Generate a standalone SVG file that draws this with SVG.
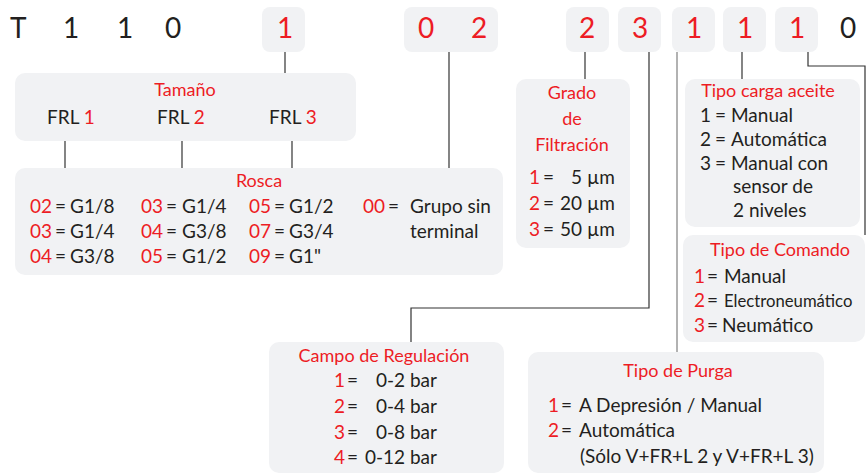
<svg xmlns="http://www.w3.org/2000/svg" width="867" height="475" viewBox="0 0 867 475">
<style>
text{font-family:Lato,"Open Sans","Liberation Sans",sans-serif;fill:#231f20}
.r{fill:#ed1c24}
.box{fill:#f1f2f4}
.code{font-size:28px}
.t{font-size:18px;fill:#ed1c24}
.b{font-size:19px}
.c{stroke:#333;stroke-width:1.2;fill:none}
.g{stroke:#999;stroke-width:1.5;fill:none}
</style>
<rect width="867" height="475" fill="#fff"/>
<g id="connectors">
<line class="c" x1="285" y1="52" x2="285" y2="73"/>
<line class="c" x1="449" y1="52" x2="449" y2="168"/>
<line class="c" x1="65" y1="141" x2="65" y2="168"/>
<line class="c" x1="182" y1="141" x2="182" y2="168"/>
<line class="c" x1="292" y1="141" x2="292" y2="168"/>
<line class="c" x1="585" y1="52" x2="585" y2="79"/>
<polyline class="c" points="649,52 649,308 411,308 411,342"/>
<line class="g" x1="677" y1="52" x2="677" y2="352"/>
<line class="c" x1="742" y1="52" x2="742" y2="79"/>
<polyline class="c" points="808,52 808,66 865,66 865,235"/>
</g>
<g id="code">
<text class="code" x="10" y="38">T</text>
<text class="code" x="63" y="38">1</text>
<text class="code" x="117" y="38">1</text>
<text class="code" x="165" y="38">0</text>
<text class="code" x="840" y="38">0</text>
</g>
<g id="code-boxes">
<rect class="box" x="262" y="7" width="43" height="45" rx="8"/>
<text class="code r" x="285" y="38" text-anchor="middle">1</text>
<rect class="box" x="404" y="7" width="94" height="45" rx="8"/>
<text class="code r" x="426" y="38" text-anchor="middle">0</text>
<text class="code r" x="479" y="38" text-anchor="middle">2</text>
<rect class="box" x="566" y="7" width="43" height="45" rx="8"/>
<text class="code r" x="587" y="38" text-anchor="middle">2</text>
<rect class="box" x="618" y="7" width="43" height="45" rx="8"/>
<text class="code r" x="640" y="38" text-anchor="middle">3</text>
<rect class="box" x="672" y="7" width="43" height="45" rx="8"/>
<text class="code r" x="694" y="38" text-anchor="middle">1</text>
<rect class="box" x="723" y="7" width="43" height="45" rx="8"/>
<text class="code r" x="745" y="38" text-anchor="middle">1</text>
<rect class="box" x="775" y="7" width="43" height="45" rx="8"/>
<text class="code r" x="797" y="38" text-anchor="middle">1</text>
</g>
<g id="tamano">
<rect class="box" x="15" y="73" width="341" height="68" rx="10"/>
<text class="t" x="185" y="96" text-anchor="middle">Tamaño</text>
<text class="b" x="47" y="124">FRL <tspan class="r">1</tspan></text>
<text class="b" x="157" y="124">FRL <tspan class="r">2</tspan></text>
<text class="b" x="269" y="124">FRL <tspan class="r">3</tspan></text>
</g>
<g id="rosca">
<rect class="box" x="15" y="168" width="488" height="107" rx="10"/>
<text class="t" x="259" y="187" text-anchor="middle">Rosca</text>
<text class="b" y="213"><tspan class="r" x="30">02</tspan><tspan x="55">=</tspan><tspan x="70">G1/8</tspan><tspan class="r" x="141">03</tspan><tspan x="166">=</tspan><tspan x="182">G1/4</tspan><tspan class="r" x="249">05</tspan><tspan x="274">=</tspan><tspan x="289">G1/2</tspan><tspan class="r" x="363">00</tspan><tspan x="388">=</tspan><tspan x="410">Grupo sin</tspan></text>
<text class="b" y="238"><tspan class="r" x="30">03</tspan><tspan x="55">=</tspan><tspan x="70">G1/4</tspan><tspan class="r" x="141">04</tspan><tspan x="166">=</tspan><tspan x="182">G3/8</tspan><tspan class="r" x="249">07</tspan><tspan x="274">=</tspan><tspan x="289">G3/4</tspan><tspan x="410">terminal</tspan></text>
<text class="b" y="263"><tspan class="r" x="30">04</tspan><tspan x="55">=</tspan><tspan x="70">G3/8</tspan><tspan class="r" x="141">05</tspan><tspan x="166">=</tspan><tspan x="182">G1/2</tspan><tspan class="r" x="249">09</tspan><tspan x="274">=</tspan><tspan x="289">G1"</tspan></text>
</g>
<g id="grado">
<rect class="box" x="516" y="79" width="114" height="169" rx="10"/>
<text class="t" x="572" y="99" text-anchor="middle">Grado</text>
<text class="t" x="572" y="125" text-anchor="middle">de</text>
<text class="t" x="572" y="151" text-anchor="middle">Filtración</text>
<text class="b" y="184"><tspan class="r" x="529">1</tspan><tspan x="543">=</tspan><tspan x="571">5 µm</tspan></text>
<text class="b" y="210"><tspan class="r" x="529">2</tspan><tspan x="543">=</tspan><tspan x="560">20 µm</tspan></text>
<text class="b" y="236"><tspan class="r" x="529">3</tspan><tspan x="543">=</tspan><tspan x="560">50 µm</tspan></text>
</g>
<g id="tipo-carga">
<rect class="box" x="685" y="79" width="175" height="148" rx="10"/>
<text class="t" x="768" y="97" text-anchor="middle">Tipo carga aceite</text>
<text class="b" y="122"><tspan x="700">1</tspan><tspan x="715">=</tspan><tspan x="731">Manual</tspan></text>
<text class="b" y="146"><tspan x="700">2</tspan><tspan x="715">=</tspan><tspan x="731">Automática</tspan></text>
<text class="b" y="170"><tspan x="700">3</tspan><tspan x="715">=</tspan><tspan x="731">Manual con</tspan></text>
<text class="b" x="733" y="193">sensor de</text>
<text class="b" x="733" y="217">2 niveles</text>
</g>
<g id="tipo-comando">
<rect class="box" x="683" y="235" width="182" height="107" rx="10"/>
<text class="t" x="780" y="256" text-anchor="middle">Tipo de Comando</text>
<text class="b" y="283"><tspan class="r" x="694">1</tspan><tspan x="707">=</tspan><tspan x="724">Manual</tspan></text>
<text class="b" y="307"><tspan class="r" x="694">2</tspan><tspan x="707">=</tspan><tspan x="724" font-size="16.7">Electroneumático</tspan></text>
<text class="b" y="332"><tspan class="r" x="694">3</tspan><tspan x="707">=</tspan><tspan x="722">Neumático</tspan></text>
</g>
<g id="campo">
<rect class="box" x="269" y="342" width="235" height="131" rx="10"/>
<text class="t" x="384" y="362" text-anchor="middle">Campo de Regulación</text>
<text class="b" y="387"><tspan class="r" x="334">1</tspan><tspan x="347">=</tspan><tspan x="376">0-2 bar</tspan></text>
<text class="b" y="413"><tspan class="r" x="334">2</tspan><tspan x="347">=</tspan><tspan x="376">0-4 bar</tspan></text>
<text class="b" y="439"><tspan class="r" x="334">3</tspan><tspan x="347">=</tspan><tspan x="376">0-8 bar</tspan></text>
<text class="b" y="464"><tspan class="r" x="334">4</tspan><tspan x="347">=</tspan><tspan x="365">0-12 bar</tspan></text>
</g>
<g id="purga">
<rect class="box" x="528" y="352" width="296" height="121" rx="10"/>
<text class="t" x="678" y="377" text-anchor="middle">Tipo de Purga</text>
<text class="b" y="412"><tspan class="r" x="548">1</tspan><tspan x="561">=</tspan><tspan x="579">A Depresión / Manual</tspan></text>
<text class="b" y="437"><tspan class="r" x="548">2</tspan><tspan x="561">=</tspan><tspan x="579">Automática</tspan></text>
<text class="b" x="580" y="463">(Sólo V+FR+L 2 y V+FR+L 3)</text>
</g>
</svg>
